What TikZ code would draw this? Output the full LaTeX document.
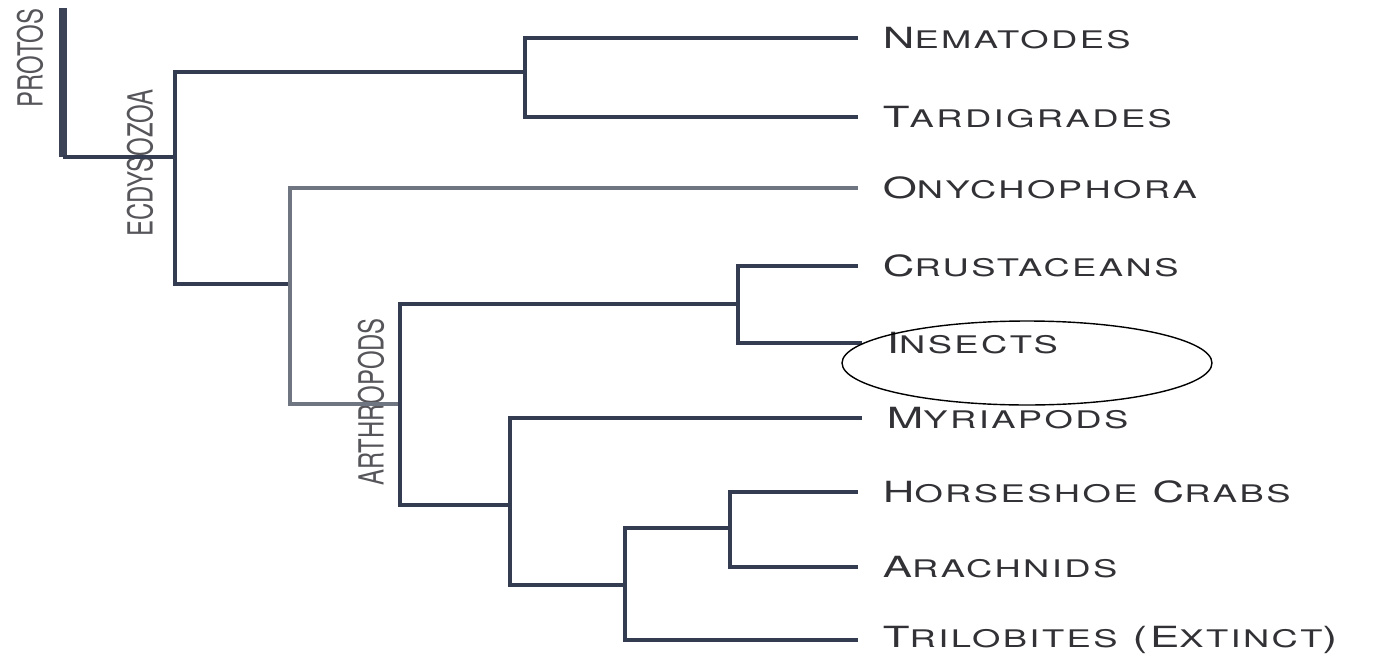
\documentclass[tikz,border=0pt]{standalone}
\usepackage{fontspec}
\setsansfont{TeX Gyre Heros}
\newfontfamily\widefont[FakeStretch=1.5, LetterSpace=10]{TeX Gyre Heros}
\newfontfamily\narrowfont[FakeStretch=0.69]{TeX Gyre Heros}
\usetikzlibrary{positioning, shapes.geometric}
\definecolor{treeblue}{RGB}{52, 60, 82}
\definecolor{treegray}{RGB}{112, 117, 130}
\definecolor{labelgray}{RGB}{50, 50, 54}
\definecolor{cladegray}{RGB}{85, 85, 90}
% big first letter, smaller capitals after it
\newcommand\fsc[2]{{\fontsize{16.6}{18}\selectfont #1}{\fontsize{13.8}{16}\selectfont #2}}

\begin{document}
\begin{tikzpicture}[x=0.02cm, y=-0.02cm,
  taxon/.style={anchor=west, inner xsep=14pt, text=labelgray,
                font=\widefont\fontsize{16.6}{18}\selectfont},
  clade/.style={rotate=90, text=cladegray, inner sep=0pt,
                font=\narrowfont\fontsize{19.7}{22}\selectfont},
  branch/.style={draw=treeblue, line width=1.9pt},
  fade/.style={draw=treegray, line width=1.9pt},
  trunk/.style={draw=treeblue!90!gray, line width=4pt}
]
\useasboundingbox (0,0) rectangle (1375,659);

% leaves
\node[taxon] (nem) at (858,38)  {\fsc{N}{EMATODES}};
\node[taxon] (tar) at (858,117) {\fsc{T}{ARDIGRADES}};
\node[taxon] (ony) at (858,188) {\fsc{O}{NYCHOPHORA}};
\node[taxon] (cru) at (858,266) {\fsc{C}{RUSTACEANS}};
\node[taxon] (ins) at (862,343) {\fsc{I}{NSECTS}};
\node[taxon] (myr) at (862,418) {\fsc{M}{YRIAPODS}};
\node[taxon] (hor) at (858,492) {\fsc{H}{ORSESHOE} \fsc{C}{RABS}};
\node[taxon] (ara) at (858,567) {\fsc{A}{RACHNIDS}};
\node[taxon] (tri) at (858,640) {\fsc{T}{RILOBITES}\ (\fsc{E}{XTINCT})};

% inner nodes
\coordinate (top) at (63,8);
\coordinate (ecd) at (175,157);
\coordinate (nt)  at (525,72);
\coordinate (pan) at (290,284);
\coordinate (art) at (400,404);
\coordinate (pc)  at (738,304);
\coordinate (mc)  at (510,505);
\coordinate (ct)  at (625,585);
\coordinate (hc)  at (730,528);

% group names
\node[clade] (protos) at (30,58)   {PROTOS};
\node[clade] (ecdys)  at (140,163) {ECDYSOZOA};
\node[clade] (arthr)  at (371,402) {ARTHROPODS};

% branches
\draw[trunk]  (top) -- (top |- ecd);
\draw[branch] (top |- ecd) -- (ecd);
\draw[branch] (nt) -| (ecd) |- (pan);
\draw[branch] (nem.west) -| (nt) |- (tar.west);
\draw[fade]   (ony.west) -| (pan) |- (art);
\draw[branch] (pc) -| (art) |- (mc);
\draw[branch] (cru.west) -| (pc) |- (ins.west);
\draw[branch] (myr.west) -| (mc) |- (ct);
\draw[branch] (hc) -| (ct) |- (tri.west);
\draw[branch] (hor.west) -| (hc) |- (ara.west);

% highlight
\node[draw=black, ellipse, line width=0.8pt, minimum width=7.4cm, minimum height=1.68cm] (ring) at (1027,363) {};
\end{tikzpicture}
\end{document}
